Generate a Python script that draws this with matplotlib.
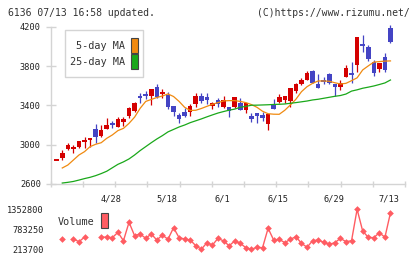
import numpy as np
import matplotlib
matplotlib.use("Agg")
import matplotlib.pyplot as plt
from matplotlib.patches import Rectangle
from matplotlib.transforms import blended_transform_factory

# ---------------- data ----------------
opens = [2845, 2861, 2956, 2953, 2980, 3024, 3055, 3160, 3092, 3160,
         3212, 3183, 3234, 3290, 3346, 3499, 3507, 3495, 3583, 3525,
         3505, 3393, 3302, 3336, 3336, 3414, 3499, 3488, 3393, 3450,
         3387, 3380, 3380, 3421, 3353, 3292, 3320, 3304, 3212, 3404,
         3431, 3454, 3448, 3549, 3617, 3658, 3750, 3617, 3653, 3719,
         3617, 3590, 3692, 3722, 3811, 4017, 3990, 3845, 3767, 3895,
         4184]
highs = [2845, 2946, 3017, 2997, 3041, 3075, 3071, 3210, 3200, 3268,
         3241, 3285, 3285, 3380, 3429, 3529, 3550, 3570, 3617, 3566,
         3539, 3395, 3319, 3370, 3414, 3529, 3529, 3522, 3438, 3472,
         3495, 3382, 3485, 3471, 3421, 3326, 3326, 3329, 3309, 3463,
         3512, 3497, 3573, 3631, 3675, 3753, 3760, 3719, 3692, 3726,
         3617, 3658, 3811, 3845, 4095, 4116, 4014, 3862, 3828, 3929,
         4218]
lows = [2845, 2844, 2946, 2919, 2970, 2963, 2980, 3020, 3082, 3158,
        3173, 3176, 3193, 3275, 3334, 3427, 3461, 3404, 3472, 3472,
        3360, 3292, 3224, 3285, 3292, 3380, 3421, 3414, 3360, 3387,
        3370, 3285, 3378, 3353, 3326, 3234, 3224, 3245, 3152, 3363,
        3421, 3427, 3387, 3522, 3607, 3658, 3624, 3573, 3617, 3617,
        3495, 3556, 3692, 3624, 3743, 3939, 3855, 3699, 3743, 3743,
        4031]
closes = [2845, 2912, 2997, 2980, 3037, 3048, 3060, 3082, 3149, 3200,
          3208, 3258, 3261, 3370, 3421, 3472, 3503, 3566, 3482, 3532,
          3387, 3336, 3261, 3292, 3393, 3495, 3448, 3455, 3427, 3414,
          3455, 3346, 3482, 3353, 3421, 3261, 3292, 3268, 3309, 3363,
          3482, 3495, 3573, 3617, 3658, 3726, 3631, 3580, 3649, 3624,
          3590, 3628, 3777, 3716, 4092, 4011, 3868, 3726, 3828, 3760,
          4048]

ma5 = [np.nan, 2763, 2793, 2844, 2895, 2929, 2980, 3004, 3020, 3065,
       3099, 3143, 3166, 3217, 3280, 3370, 3440, 3460, 3480, 3495,
       3516, 3490, 3440, 3380, 3348, 3350, 3368, 3390, 3411, 3428,
       3445, 3448, 3448, 3440, 3428, 3408, 3380, 3340, 3315, 3310,
       3309, 3350, 3404, 3462, 3539, 3590, 3624, 3648, 3648, 3645,
       3630, 3617, 3624, 3651, 3680, 3760, 3801, 3840, 3845, 3850,
       3852]
ma25 = [np.nan, 2610, 2617, 2626, 2640, 2655, 2668, 2685, 2706, 2730,
        2765, 2800, 2825, 2855, 2895, 2940, 2980, 3020, 3058, 3092,
        3130, 3155, 3180, 3200, 3224, 3243, 3262, 3283, 3303, 3322,
        3337, 3351, 3362, 3380, 3390, 3401, 3402, 3404, 3406, 3409,
        3411, 3414, 3421, 3428, 3436, 3444, 3455, 3462, 3472, 3482,
        3492, 3500, 3515, 3545, 3558, 3574, 3585, 3597, 3612, 3628,
        3658]

nan = np.nan
volume = [nan, 507e3, nan, 507e3, 430e3, 560e3, nan, nan, 560e3, 560e3,
          545e3, 697e3, 458e3, 983e3, 601e3, 649e3, 527e3, 649e3, 478e3, 621e3,
          498e3, 829e3, 544e3, 507e3, 478e3, 316e3, 214e3, 402e3, 336e3, 527e3,
          450e3, 316e3, 450e3, 384e3, 260e3, 214e3, 271e3, 260e3, 812e3, 478e3,
          498e3, 402e3, 498e3, 572e3, 384e3, 271e3, 458e3, 478e3, 413e3, 356e3,
          402e3, 527e3, 430e3, 458e3, 1352.8e3, 735e3, 555e3, 544e3, 687e3, 555e3,
          1256e3]

date_labels = ['4/28', '5/18', '6/1', '6/15', '6/29', '7/13']
date_index = [10, 20, 30, 40, 50, 60]
price_ticks = [2600, 3000, 3400, 3800, 4200]
vol_ticks = [213700, 783250, 1352800]

# ---------------- figure ----------------
W, H = 420, 259
fig = plt.figure(figsize=(W / 100, H / 100), dpi=100)
mono = 'DejaVu Sans Mono'
GRAY = '#d4d4d4'
RED = '#d40000'
BLUE = '#4444c4'
ORANGE = '#f08a10'
GREEN = '#1aa81a'
VOLC = '#ff5c62'


def px(x0, y0, x1, y1):
    return [x0 / W, 1 - y1 / H, (x1 - x0) / W, (y1 - y0) / H]


ax = fig.add_axes(px(50.7, 26.7, 405, 184))
n = len(closes)
idx = np.arange(n)
xmin, xmax = -1.08, 62.61
ax.set_xlim(xmin, xmax)
ax.set_ylim(2600, 4200)

o = np.array(opens, float)
c = np.array(closes, float)
h = np.array(highs, float)
l = np.array(lows, float)
up = c >= o
cols = [RED if u else BLUE for u in up]

ax.vlines(idx, l, h, colors=cols, linewidth=0.9, zorder=3, clip_on=False)
body_lo = np.minimum(o, c)
body_h = np.abs(c - o)
bw = 0.82
for i in range(n):
    if body_h[i] < 12:
        ax.hlines((o[i] + c[i]) / 2, i - bw / 2, i + bw / 2, colors=cols[i],
                  linewidth=1.4, zorder=4, clip_on=False)
    else:
        ax.bar(i, body_h[i], bottom=body_lo[i], width=bw, color=cols[i],
               linewidth=0, zorder=4, clip_on=False)

ax.plot(idx, ma5, color=ORANGE, linewidth=0.9, zorder=5)
ax.plot(idx, ma25, color=GREEN, linewidth=0.9, zorder=5)

for s in ['top', 'right']:
    ax.spines[s].set_visible(False)
for s in ['left', 'bottom']:
    ax.spines[s].set_color(GRAY)
    ax.spines[s].set_linewidth(1.0)

ax.set_yticks(price_ticks)
ax.set_yticklabels([str(t) for t in price_ticks], fontfamily=mono,
                   fontsize=6.2, color='#222222')
ax.tick_params(axis='y', direction='inout', length=7, width=1.0, color=GRAY, pad=3.5)
xt = [xmin + k * (xmax - xmin) / 11 for k in range(12)]
ax.set_xticks(xt)
ax.set_xticklabels([])
ax.tick_params(axis='x', direction='inout', length=5, width=1.0, color=GRAY)

tr = blended_transform_factory(ax.transData, ax.transAxes)
for lab, i in zip(date_labels, date_index):
    ax.text(i - 0.2, (184 - 199) / 157.3, lab, transform=tr, ha='center', va='center',
            fontfamily=mono, fontsize=6.2, color='#222222')

# legend box
fig.patches.append(Rectangle((65 / W, 1 - 77 / H), 78 / W, 47 / H, transform=fig.transFigure,
                             facecolor='white', edgecolor=GRAY, linewidth=1.0, zorder=6))
fig.text(125 / W, 1 - 46 / H, '5-day MA', ha='right', va='center', fontfamily=mono,
         fontsize=7.3, color='#333333', zorder=7)
fig.text(125 / W, 1 - 62 / H, '25-day MA', ha='right', va='center', fontfamily=mono,
         fontsize=7.3, color='#333333', zorder=7)
fig.patches.append(Rectangle((131 / W, 1 - 53 / H), 7 / W, 15 / H, transform=fig.transFigure,
                             facecolor=ORANGE, edgecolor='#444444', linewidth=0.8, zorder=7))
fig.patches.append(Rectangle((131 / W, 1 - 69 / H), 7 / W, 15 / H, transform=fig.transFigure,
                             facecolor=GREEN, edgecolor='#444444', linewidth=0.8, zorder=7))

# header
fig.text(8 / W, 1 - 12.5 / H, '6136 07/13 16:58 updated.', ha='left', va='center',
         fontfamily=mono, fontsize=7.0, color='#333333')
fig.text(410 / W, 1 - 12.5 / H, '(C)https://www.rizumu.net/', ha='right', va='center',
         fontfamily=mono, fontsize=7.0, color='#333333')

# volume panel
axv = fig.add_axes(px(50.7, 209.3, 405, 249.3))
axv.set_xlim(xmin, xmax)
axv.set_ylim(vol_ticks[0], vol_ticks[-1])
axv.plot(idx, volume, color=VOLC, linewidth=1.0, marker='D', markersize=3.4,
         markeredgewidth=0, clip_on=False)
for s in axv.spines.values():
    s.set_visible(False)
axv.set_xticks([])
axv.set_yticks(vol_ticks)
axv.set_yticklabels([str(t) for t in vol_ticks], fontfamily=mono, fontsize=6.2,
                    color='#222222')
axv.tick_params(axis='y', length=0, pad=4.8)
axv.patch.set_alpha(0)

fig.text(58 / W, 1 - 222 / H, 'Volume', ha='left', va='center', fontfamily=mono,
         fontsize=7.3, color='#333333')
fig.patches.append(Rectangle((101 / W, 1 - 228 / H), 7 / W, 15 / H, transform=fig.transFigure,
                             facecolor=VOLC, edgecolor='#444444', linewidth=0.8, zorder=7))

fig.savefig('out.png', dpi=100)
